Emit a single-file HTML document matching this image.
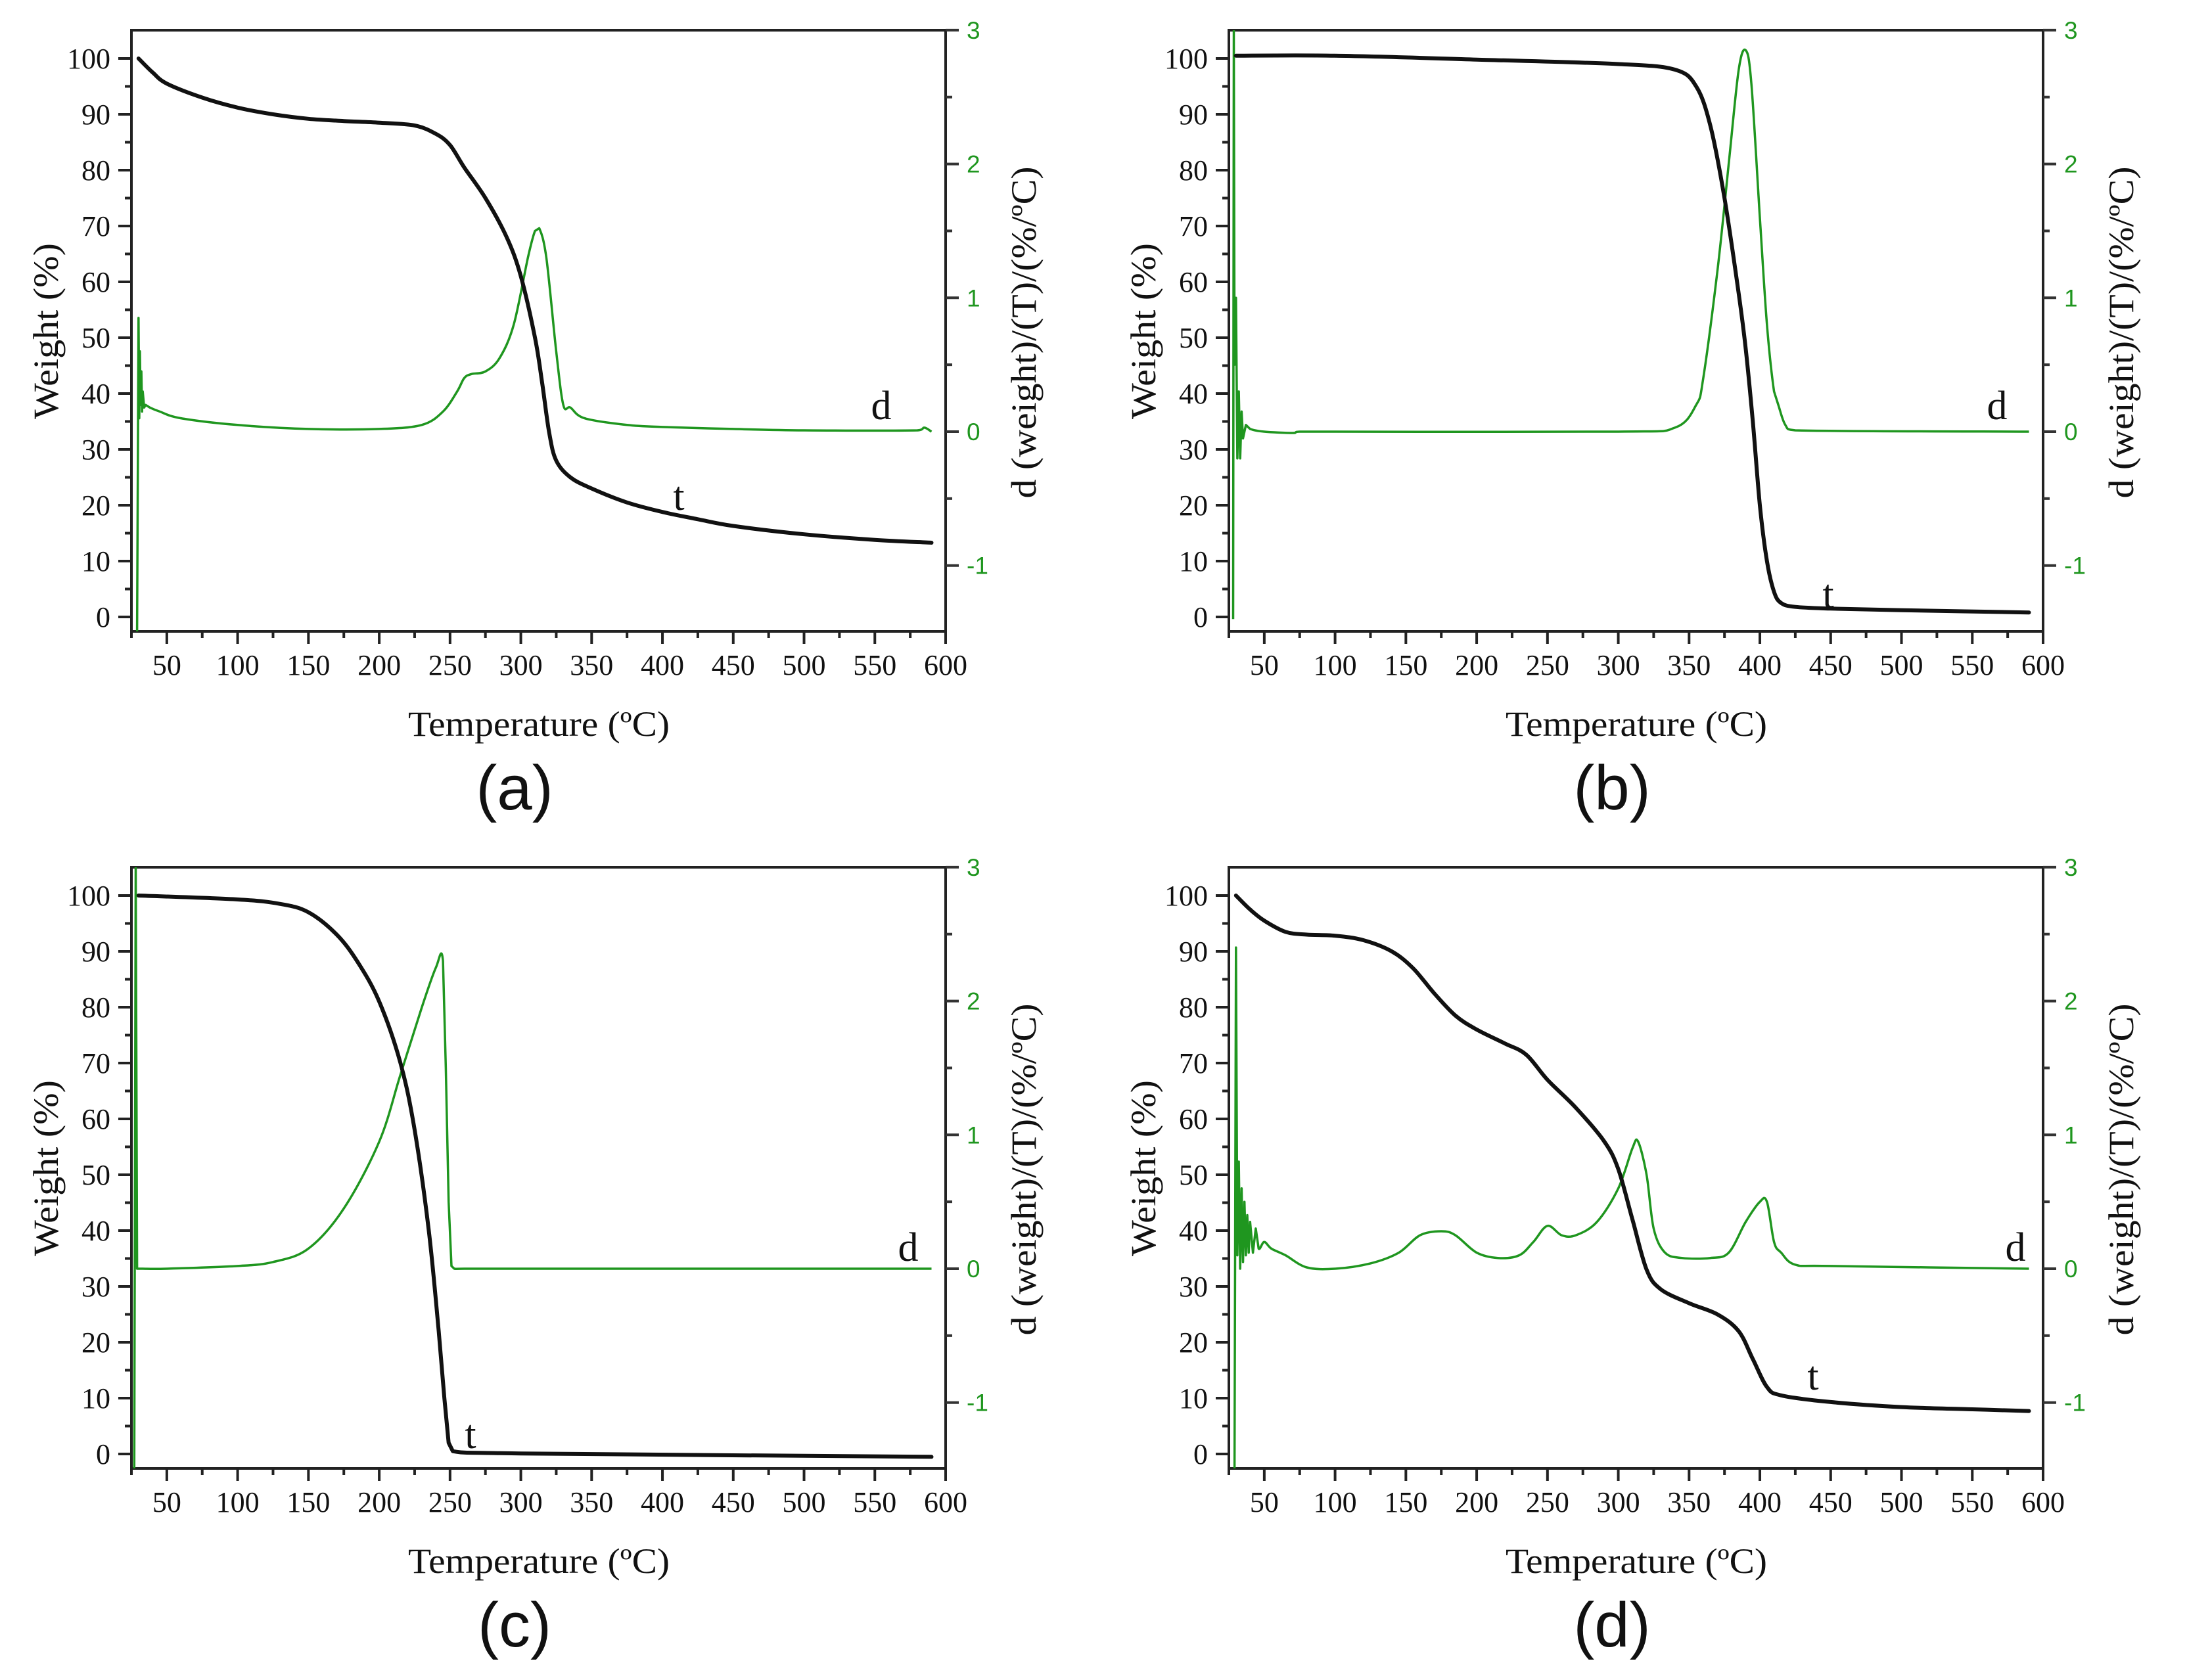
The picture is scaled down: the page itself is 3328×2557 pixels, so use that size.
<!DOCTYPE html>
<html><head><meta charset="utf-8"><style>
html,body{margin:0;padding:0;background:#fff}
svg{display:block}
</style></head><body>
<svg id="fig" xmlns="http://www.w3.org/2000/svg" width="3328" height="2557" viewBox="0 0 3328 2557"></svg>
<script>
// Panel data (Temperature °C, weight % / derivative %/°C)
const tickTemps=[50,100,150,200,250,300,350,400,450,500,550,600];
const tickWeights=[0,10,20,30,40,50,60,70,80,90,100];
const tickDeriv=[-1,0,1,2,3];
const panelLetters=["(a)","(b)","(c)","(d)"];

const aT=[30,40,50,75,100,125,150,175,200,225,240,250,260,275,290,300,310,315,320,325,335,350,375,400,425,450,500,550,590];
const aW=[100,97.5,95.5,93,91.2,90,89.2,88.8,88.5,88,86.5,84.5,80.5,75,68,61,50,42,33,28,25,23,20.5,18.8,17.5,16.3,14.8,13.8,13.3];
const aDT=[29,30,30.5,31,31.5,32,32.5,33,34,35,38,45,60,100,150,200,230,245,255,260,265,275,285,295,305,310,313,318,325,330,335,345,375,400,450,500,580,585,590];
const aD=[-1.5,0.85,0.1,0.6,0.2,0.45,0.15,0.3,0.18,0.2,0.18,0.15,0.1,0.05,0.02,0.02,0.05,0.15,0.3,0.4,0.43,0.45,0.55,0.8,1.3,1.5,1.52,1.3,0.6,0.2,0.18,0.1,0.05,0.035,0.02,0.01,0.01,0.03,0.0];

const bT=[30,100,200,300,340,355,365,375,385,390,395,400,405,410,415,425,450,500,590];
const bW=[100.5,100.5,99.8,99,98,95,88,75,58,48,35,20,10,4.5,2.5,1.8,1.5,1.2,0.8];
const bDT=[28,28.5,29,30,31,32,33,34,35,37,40,50,70,75,300,340,355,360,370,378,385,390,394,400,405,410,413,418,425,590];
const bD=[-1.4,3,0.5,1.0,-0.2,0.3,-0.2,0.15,-0.05,0.05,0.02,0,-0.01,0,0,0.03,0.2,0.4,1.2,2.0,2.7,2.85,2.6,1.6,0.8,0.3,0.2,0.05,0.01,0];

const cT=[30,100,130,150,170,185,200,215,225,235,242,246,249,252,300,590];
const cW=[100,99.3,98.5,97,93,88,81,70,58,40,22,10,2,0.5,0.1,-0.5];
const cDT=[27,28,29,30,33,50,100,125,150,175,200,215,230,240,245,247,249,251,253,260,590];
const cD=[-1.5,3,0,0,0,0,0.02,0.05,0.15,0.45,0.95,1.45,1.95,2.25,2.3,1.5,0.5,0.02,0,0,0];

const dT=[30,40,50,65,80,100,120,140,155,170,185,200,220,235,250,270,290,300,310,320,330,350,370,385,395,405,415,450,500,550,590];
const dW=[100,97.5,95.5,93.5,93,92.8,92,90,87,82.5,78.5,76,73.5,71.5,67,62,56,51,42,33,29.5,27,25,22,17,12,10.5,9.3,8.4,8,7.7];
const dDT=[29,30,31,32,33,34,35,36,37,38,39,40,42,44,46,50,55,65,80,100,125,145,160,175,185,200,215,230,240,250,260,270,285,300,310,314,320,325,333,345,365,378,390,400,405,410,415,425,450,590];
const dD=[-1.5,2.4,0.1,0.8,0.0,0.6,0.05,0.5,0.1,0.4,0.12,0.35,0.12,0.3,0.15,0.2,0.15,0.1,0.01,0,0.04,0.12,0.25,0.28,0.25,0.12,0.08,0.1,0.2,0.32,0.25,0.25,0.35,0.6,0.9,0.95,0.7,0.3,0.12,0.08,0.08,0.12,0.35,0.5,0.5,0.2,0.12,0.03,0.02,0];

const panels=[
 {ox:0,oy:0,T:aT,W:aW,DT:aDT,D:aD,dl:[1341,638],tl:[1033,776]},
 {ox:1670,oy:0,T:bT,W:bW,DT:bDT,D:bD,dl:[3039,638],tl:[2782,925]},
 {ox:0,oy:1274,T:cT,W:cW,DT:cDT,D:cD,dl:[1382,1919],tl:[716,2204]},
 {ox:1670,oy:1274,T:dT,W:dW,DT:dDT,D:dD,dl:[3067,1919],tl:[2759,2115]}
];

const NS="http://www.w3.org/2000/svg";
const svg=document.getElementById('fig');
const GREEN="#1f961f";
function mk(tag,attrs,parent){const e=document.createElementNS(NS,tag);for(const k in attrs)e.setAttribute(k,attrs[k]);(parent||svg).appendChild(e);return e;}
function smooth(pts){
  let s='M'+pts[0][0].toFixed(1)+' '+pts[0][1].toFixed(1);
  for(let i=0;i<pts.length-1;i++){
    const p0=pts[Math.max(0,i-1)],p1=pts[i],p2=pts[i+1],p3=pts[Math.min(pts.length-1,i+2)];
    const dx=p2[0]-p1[0];
    if(dx<8){s+=' L'+p2[0].toFixed(1)+' '+p2[1].toFixed(1);continue;}
    const c1=[p1[0]+(p2[0]-p0[0])/6,p1[1]+(p2[1]-p0[1])/6];
    const c2=[p2[0]-(p3[0]-p1[0])/6,p2[1]-(p3[1]-p1[1])/6];
    c1[0]=Math.min(Math.max(c1[0],p1[0]),p2[0]);c2[0]=Math.min(Math.max(c2[0],p1[0]),p2[0]);
    s+=' C'+c1.map(v=>v.toFixed(1)).join(' ')+' '+c2.map(v=>v.toFixed(1)).join(' ')+' '+p2[0].toFixed(1)+' '+p2[1].toFixed(1);
  }
  return s;
}

panels.forEach((p,i)=>{
  const L=200+p.ox,R=1439+p.ox,Tp=46+p.oy,B=961+p.oy;
  const x=t=>L+(t-25)*(R-L)/575;
  const yW=w=>939+p.oy-8.5*w;
  const yD=d=>657+p.oy-203.7*d;
  const g=mk('g',{});
  
  
  const fr=mk('rect',{x:L,y:Tp,width:R-L,height:B-Tp,fill:'none',stroke:'#222','stroke-width':4},g);
  
  
  for(let t=25;t<=600;t+=25){
    const maj=t%50===0;
    mk('line',{x1:x(t),x2:x(t),y1:B,y2:B+(maj?19:10),stroke:'#222','stroke-width':4},g);
  }
  tickTemps.forEach(t=>{
    const tx=mk('text',{x:x(t),y:B+66,'text-anchor':'middle','font-family':'Liberation Serif, serif','font-size':44,fill:'#111'},g);
    tx.textContent=t;
    
    
  });
  for(let w=0;w<=100;w+=5){
    const maj=w%10===0;
    mk('line',{x1:L-(maj?20:10),x2:L,y1:yW(w),y2:yW(w),stroke:'#222','stroke-width':4},g);
  }
  tickWeights.forEach(w=>{
    const tx=mk('text',{x:L-32,y:yW(w)+15,'text-anchor':'end','font-family':'Liberation Serif, serif','font-size':44,fill:'#111'},g);
    tx.textContent=w;
    
    
  });
  for(let d=-1.5;d<=3.001;d+=0.5){
    const maj=Math.abs(d-Math.round(d))<0.01;
    if(yD(d)>B+1)continue;
    mk('line',{x1:R,x2:R+(maj?20:10),y1:yD(d),y2:yD(d),stroke:'#333','stroke-width':4},g);
  }
  tickDeriv.forEach(d=>{
    const tx=mk('text',{x:R+32,y:yD(d)+13,'font-family':'Liberation Sans, sans-serif','font-size':37,fill:GREEN},g);
    tx.textContent=d;
    
    
  });
  const xt=mk('text',{x:820+p.ox,y:1120+p.oy,'text-anchor':'middle','font-family':'Liberation Serif, serif','font-size':54,fill:'#111',textLength:398,lengthAdjust:'spacingAndGlyphs'},g);
  xt.textContent='Temperature (ºC)';
  
  
  const yt=mk('text',{x:0,y:0,'text-anchor':'middle','font-family':'Liberation Serif, serif','font-size':54,fill:'#111',transform:`translate(${88+p.ox},${504+p.oy}) rotate(-90)`,textLength:268,lengthAdjust:'spacingAndGlyphs'},g);
  yt.textContent='Weight (%)';
  
  
  const y2=mk('text',{x:0,y:0,'text-anchor':'middle','font-family':'Liberation Serif, serif','font-size':54,fill:'#111',transform:`translate(${1576+p.ox},${506+p.oy}) rotate(-90)`,textLength:505,lengthAdjust:'spacingAndGlyphs'},g);
  y2.textContent='d (weight)/(T)/(%/ºC)';
  
  
  const clipId='clip'+i;
  const cp=mk('clipPath',{id:clipId},g);
  mk('rect',{x:L,y:Tp,width:R-L,height:B-Tp},cp);
  const dPts=p.DT.map((t,k)=>[x(t),yD(p.D[k])]);
  const dl=mk('path',{d:smooth(dPts),fill:'none',stroke:GREEN,'stroke-width':3.5,'stroke-linejoin':'round','clip-path':`url(#${clipId})`},g);
  
  
  const wPts=p.T.map((t,k)=>[x(t),yW(p.W[k])]);
  const wl=mk('path',{d:smooth(wPts),fill:'none',stroke:'#111','stroke-width':6,'stroke-linejoin':'round','stroke-linecap':'round'},g);
  
  
  const dlab=mk('text',{x:p.dl[0],y:p.dl[1],'text-anchor':'middle','font-family':'Liberation Serif, serif','font-size':62,fill:'#111'},g);
  dlab.textContent='d';
  
  
  const tlab=mk('text',{x:p.tl[0],y:p.tl[1],'text-anchor':'middle','font-family':'Liberation Serif, serif','font-size':62,fill:'#111'},g);
  tlab.textContent='t';
  
  
  const pl=mk('text',{x:783+p.ox,y:1232+p.oy,'text-anchor':'middle','font-family':'Liberation Sans, sans-serif','font-size':96,fill:'#111'},g);
  pl.textContent=panelLetters[i];
  
  
});
</script>
</body></html>
